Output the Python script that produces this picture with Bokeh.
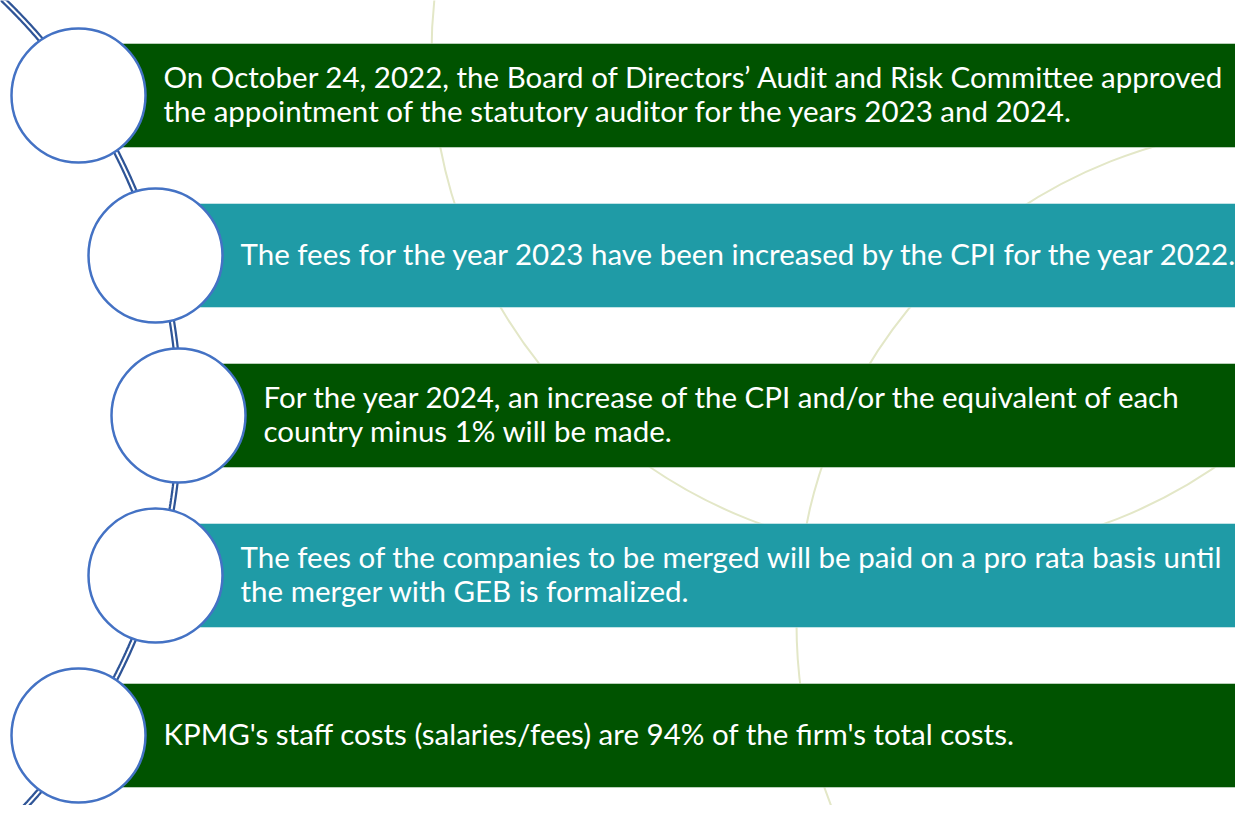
import numpy as np
from bokeh.plotting import figure
from bokeh.models import ColumnDataSource, Range1d
from bokeh.core.properties import value
from bokeh.embed import file_html
from bokeh.resources import INLINE

# ---- content ----
statements = [
    ["On October 24, 2022, the Board of Directors\u2019 Audit and Risk Committee approved",
     "the appointment of the statutory auditor for the years 2023 and 2024."],
    ["The fees for the year 2023 have been increased by the CPI for the year 2022."],
    ["For the year 2024, an increase of the CPI and/or the equivalent of each",
     "country minus 1% will be made."],
    ["The fees of the companies to be merged will be paid on a pro rata basis until",
     "the merger with GEB is formalized."],
    ["KPMG's staff costs (salaries/fees) are 94% of the firm's total costs."],
]
box_colors = ["#005300", "#1f9ba6", "#005300", "#1f9ba6", "#005300"]

# ---- layout (pixel-like coordinates, y grows downward) ----
W, H = 1235, 805
ROW0, ROW_STEP, HALF_H = 95, 160, 52
circle_x = [78, 155, 178, 155, 78]
CIRCLE_R = 67
TEXT_GAP = 18
LINE_STEP = 34
TEXT_DY = -2
FONT = "Lato"
FONT_SIZE = "29.5px"

p = figure(width=W, height=H, output_backend="svg", toolbar_location=None,
           x_range=Range1d(0, W), y_range=Range1d(H, 0),
           min_border=0, background_fill_color="white", border_fill_color="white")
p.axis.visible = False
p.grid.visible = False
p.outline_line_color = None

# faint decorative background circles
p.circle(x=[932, 1293], y=[53, 623], radius=[501, 497], fill_alpha=0,
         line_color="#e3e7c7", line_width=2)

# double-line connector along an arc
ys = np.linspace(-20, 840, 300)
cx, cy, R = -397, 414, 576
xs = cx + np.sqrt(R**2 - (ys - cy) ** 2)
p.line(xs, ys, line_color="#2f5597", line_width=6.5)
p.line(xs, ys, line_color="white", line_width=2)

# boxes
row_y = [ROW0 + ROW_STEP * i for i in range(len(statements))]
box_src = ColumnDataSource(dict(
    left=circle_x,
    right=[1300] * len(statements),
    top=[y - HALF_H for y in row_y],
    bottom=[y + HALF_H for y in row_y],
    color=box_colors,
))
p.quad(left="left", right="right", top="top", bottom="bottom", source=box_src,
       fill_color="color", line_color="white", line_alpha=0.45, line_width=1)

# circles
p.circle(x=circle_x, y=row_y, radius=CIRCLE_R, fill_color="white",
         line_color="#4472c4", line_width=2.5)

# texts
tx, ty, tt = [], [], []
for i, lines in enumerate(statements):
    n = len(lines)
    for j, line in enumerate(lines):
        tx.append(circle_x[i] + CIRCLE_R + TEXT_GAP)
        ty.append(row_y[i] + TEXT_DY + (j - (n - 1) / 2) * LINE_STEP)
        tt.append(line)
p.text(x=tx, y=ty, text=tt, text_color="white", text_font=value(FONT),
       text_font_size=FONT_SIZE, text_baseline="middle", text_align="left")

open("out.html", "w").write(file_html(p, INLINE))
